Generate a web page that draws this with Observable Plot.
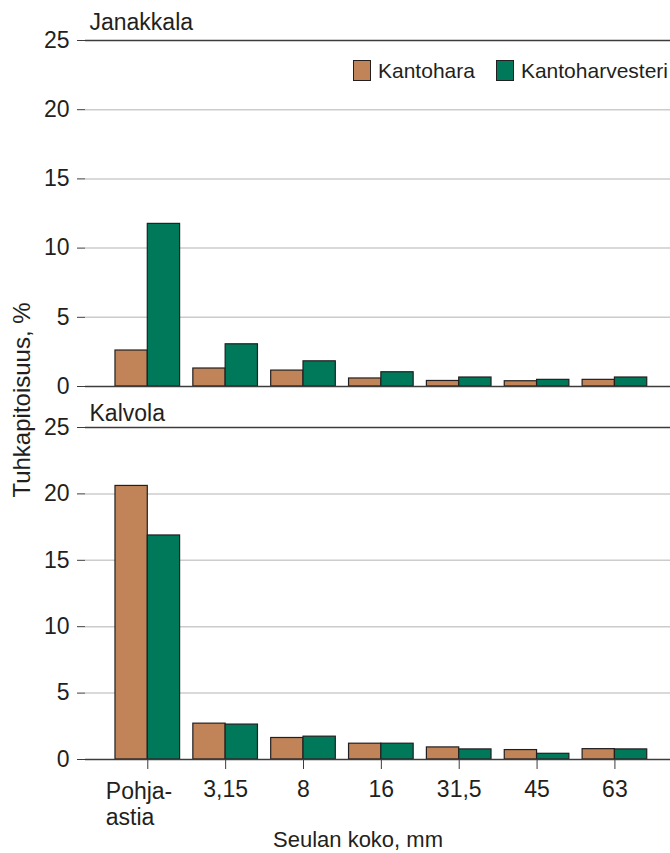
<!DOCTYPE html>
<html>
<head>
<meta charset="utf-8">
<script src="https://cdn.jsdelivr.net/npm/d3@7"></script>
<script src="https://cdn.jsdelivr.net/npm/@observablehq/plot@0.6"></script>
<style>
  html, body { margin: 0; padding: 0; background: #fff; }
  #wrap { position: relative; width: 670px; height: 853px; font-family: "Liberation Sans", Arial, sans-serif; color: #231f20; }
  #wrap svg { display: block; }
  .legend { position: absolute; top: 60px; left: 353px; display: flex; align-items: center; font-size: 21px; line-height: 21px; }
  .legend .sw { width: 18px; height: 21px; border: 1px solid #231f20; box-sizing: border-box; margin-right: 7px; }
  .legend .item { display: flex; align-items: center; margin-right: 21px; }
  .ylabel { position: absolute; left: 22px; top: 400px; transform: translate(-50%, -50%) rotate(-90deg); white-space: nowrap; font-size: 24px; }
</style>
</head>
<body>
<div id="wrap"></div>
<script>
// ---- data ----
const sieves = ["Pohja-astia", "3,15", "8", "16", "31,5", "45", "63"];
const series = ["Kantohara", "Kantoharvesteri"];
const panelTitles = ["Janakkala", "Kalvola"];
const janakkalaKantohara = [2.6, 1.3, 1.15, 0.58, 0.4, 0.38, 0.48];
const janakkalaKantoharvesteri = [11.75, 3.05, 1.82, 1.03, 0.65, 0.48, 0.65];
const kalvolaKantohara = [20.6, 2.7, 1.62, 1.19, 0.91, 0.71, 0.78];
const kalvolaKantoharvesteri = [16.87, 2.63, 1.72, 1.19, 0.76, 0.43, 0.76];
const yTicks = [0, 5, 10, 15, 20, 25];
const gridTicks = [5, 10, 15, 20];
const yLabel = "Tuhkapitoisuus, %";
const xLabel = "Seulan koko, mm";
const colors = ["#c08458", "#00785a"];

const wrap = document.getElementById("wrap");
const W = 670;

function panel({title, a, b, height, marginTop, marginBottom, titleDy, showX}) {
  const rows = sieves.flatMap((s, i) => [
    {sieve: s, series: series[0], value: a[i]},
    {sieve: s, series: series[1], value: b[i]}
  ]);
  const base = {
    width: W, height, marginTop, marginBottom, marginLeft: 85, marginRight: 0,
    style: {fontFamily: "'Liberation Sans', Arial, sans-serif", fontSize: "23px", color: "#231f20", background: "transparent", overflow: "visible"},
    x: {domain: sieves, paddingInner: 0.17, paddingOuter: 0.342, align: 0.563, round: false, axis: null},
    y: {domain: [0, 25], axis: null},
    color: {domain: series, range: colors}
  };
  const probe = Plot.plot({...base, marks: [Plot.barY(rows, {x: "sieve", y: "value"})]});
  const bw = probe.scale("x").bandwidth;
  const marks = [
    Plot.ruleY(gridTicks, {stroke: "#cccccc", strokeWidth: 1.5}),
    Plot.barY(rows.filter(d => d.series === series[0]), {x: "sieve", y: "value", fill: "series", stroke: "#231f20", strokeWidth: 1.2, insetLeft: 0, insetRight: bw / 2}),
    Plot.barY(rows.filter(d => d.series === series[1]), {x: "sieve", y: "value", fill: "series", stroke: "#231f20", strokeWidth: 1.2, insetLeft: bw / 2, insetRight: 0}),
    Plot.ruleY([0, 25], {stroke: "#3c3c3c", strokeWidth: 1.3}),
    Plot.axisY({ticks: yTicks, tickSize: 8, tickPadding: 8, line: true, label: null, stroke: "#3c3c3c", fontSize: 23}),
    Plot.text([title], {frameAnchor: "top-left", lineAnchor: "middle", dx: 4, dy: titleDy, textAnchor: "start", fontSize: 23})
  ];
  if (showX) {
    marks.push(
      Plot.axisX({tickSize: 10, tickPadding: 11, label: null, stroke: "#3c3c3c", fontSize: 23, tickFormat: d => d === sieves[0] ? "" : d}),
      Plot.axisX([sieves[0]], {tickSize: 0, tickPadding: 21, label: null, textAnchor: "start", dx: -42, lineHeight: 1.13, fontSize: 23, tickFormat: () => "Pohja-\nastia"}),
      Plot.text([xLabel], {frameAnchor: "bottom", lineAnchor: "middle", dx: -20, dy: 80, fontSize: 22})
    );
  }
  return Plot.plot({...base, marks});
}

wrap.appendChild(panel({title: panelTitles[0], a: janakkalaKantohara, b: janakkalaKantoharvesteri, height: 400, marginTop: 40, marginBottom: 14, titleDy: -18, showX: false}));
wrap.appendChild(panel({title: panelTitles[1], a: kalvolaKantohara, b: kalvolaKantoharvesteri, height: 453, marginTop: 27, marginBottom: 94, titleDy: -14, showX: true}));

// legend
const leg = document.createElement("div");
leg.className = "legend";
series.forEach((s, i) => {
  const it = document.createElement("div");
  it.className = "item";
  const sw = document.createElement("div");
  sw.className = "sw";
  sw.style.background = colors[i];
  const t = document.createElement("span");
  t.textContent = s;
  it.appendChild(sw); it.appendChild(t);
  leg.appendChild(it);
});
wrap.appendChild(leg);

const yl = document.createElement("div");
yl.className = "ylabel";
yl.textContent = yLabel;
wrap.appendChild(yl);
</script>
</body>
</html>
